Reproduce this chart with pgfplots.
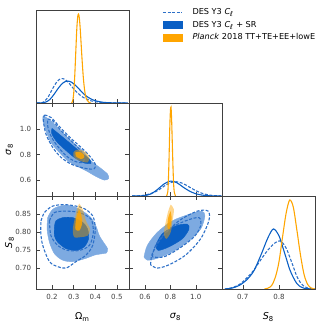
\documentclass[border=0pt]{standalone}
\usepackage{fontspec}
\setmainfont{DejaVu Sans}
\usepackage{pgfplots}
\pgfplotsset{compat=1.18}

\definecolor{cldash}{RGB}{45,112,200}
\definecolor{srdark}{RGB}{10,95,196}
\definecolor{srlight}{RGB}{125,170,225}
\definecolor{plk}{RGB}{255,165,0}

\pgfplotsset{
  tri/.style={scale only axis, width=2.4cm, height=2.4cm,
    axis line style={black!75, line width=0.6pt},
    tick style={black!75, line width=0.5pt}, major tick length=0.11cm,
    tick label style={font=\fontsize{5.2}{6.3}\selectfont, text=black!75},
    every axis x label/.style={at={(axis description cs:0.5,-0.30)}, anchor=center,
      font=\fontsize{7}{8}\selectfont},
    every axis y label/.style={at={(axis description cs:-0.285,0.5)}, anchor=center, rotate=90,
      font=\fontsize{7}{8}\selectfont},
    /pgf/number format/assume math mode=true},
  diag/.style={tri, ymin=0, ymax=1.045, ytick=\empty, xtick pos=left},
  cl1d/.style={cldash, line width=0.8pt, dash pattern=on 2.2pt off 1.2pt, smooth, no marks},
  sr1d/.style={srdark, line width=0.8pt, smooth, no marks},
  pl1d/.style={plk, line width=0.8pt, smooth, no marks},
  srL/.style={fill=srlight, draw=srlight, line width=0.3pt, smooth, no marks},
  srD/.style={fill=srdark, draw=srdark, line width=0.3pt, smooth, no marks},
  clC/.style={cldash, line width=0.8pt, dash pattern=on 2.2pt off 1.2pt, smooth, no marks},
  plL/.style={fill=plk, fill opacity=0.45, draw=none, smooth, no marks},
  plD/.style={fill=plk, fill opacity=0.85, draw=none, smooth, no marks},
  legline/.style={legend image code/.code={\draw[##1] (0cm,0cm) -- (0.5cm,0cm); \path (0.68cm,0cm);}},
  legbox/.style={legend image code/.code={\draw[##1] (0cm,-0.09cm) rectangle (0.5cm,0.09cm); \path (0.68cm,0cm);}},
}

\begin{document}
\begin{tikzpicture}
\path[use as bounding box] (-0.93,-0.90) rectangle (7.46,7.46);

% ---- row 1: Omega_m 1D ----
\begin{axis}[diag, at={(0,4.8cm)}, anchor=south west,
  xmin=0.126, xmax=0.556, xtick={0.2,0.3,0.4,0.5}, xticklabels={},
  legend style={at={(1.312,1.077)}, anchor=north west, draw=none, fill=none,
    font=\fontsize{6}{7}\selectfont, row sep=-0.9pt},
  legend cell align=left]
\addlegendimage{legline, cldash, line width=0.8pt, dash pattern=on 2.2pt off 1.2pt}
\addlegendimage{legbox, fill=srdark, draw=srdark}
\addlegendimage{legbox, fill=plk, draw=plk}
\addplot[cl1d, forget plot] coordinates {(0.13,0) (0.15,0.002) (0.16,0.01) (0.18,0.06) (0.20,0.15) (0.22,0.23) (0.24,0.275) (0.26,0.265) (0.28,0.22) (0.30,0.16) (0.32,0.11) (0.34,0.07) (0.36,0.045) (0.38,0.025) (0.40,0.015) (0.43,0.006) (0.47,0.001) (0.55,0)};
\addplot[sr1d, forget plot] coordinates {(0.13,0) (0.15,0.001) (0.17,0.01) (0.19,0.04) (0.21,0.10) (0.23,0.17) (0.25,0.225) (0.27,0.247) (0.29,0.235) (0.31,0.195) (0.33,0.145) (0.35,0.095) (0.37,0.06) (0.39,0.035) (0.41,0.02) (0.43,0.01) (0.46,0.004) (0.50,0.001) (0.55,0)};
\addplot[pl1d, forget plot] coordinates {(0.29,0) (0.295,0.02) (0.30,0.1) (0.305,0.3) (0.31,0.58) (0.315,0.85) (0.32,0.99) (0.325,0.98) (0.33,0.85) (0.335,0.65) (0.34,0.45) (0.345,0.28) (0.35,0.16) (0.355,0.08) (0.36,0.04) (0.37,0.01) (0.38,0)};
\legend{DES Y3 \textit{C}\textsubscript{\textit{ℓ}}, DES Y3 \textit{C}\textsubscript{\textit{ℓ}} + SR, \textit{Planck} 2018 TT+TE+EE+lowE}
\end{axis}

% ---- row 2: Omega_m vs sigma_8 ----
\begin{axis}[tri, at={(0,2.4cm)}, anchor=south west,
  xmin=0.126, xmax=0.556, ymin=0.475, ymax=1.205,
  xtick={0.2,0.3,0.4,0.5}, xticklabels={},
  ytick={0.6,0.8,1.0}, yticklabels={0.6,0.8,1.0},
  ylabel={\textit{σ}\textsubscript{8}}]
\addplot[srL] coordinates {(0.160,1.105) (0.195,1.066) (0.249,0.974) (0.296,0.896) (0.342,0.831) (0.380,0.752) (0.426,0.692) (0.457,0.647) (0.462,0.613) (0.442,0.600) (0.403,0.629) (0.357,0.674) (0.311,0.713) (0.272,0.752) (0.234,0.817) (0.195,0.896) (0.169,1.001) (0.157,1.079) (0.160,1.105)};
\addplot[srD] coordinates {(0.200,1.006) (0.242,0.948) (0.288,0.883) (0.334,0.817) (0.373,0.765) (0.380,0.731) (0.349,0.734) (0.303,0.778) (0.257,0.844) (0.218,0.909) (0.198,0.969) (0.200,1.006)};
\addplot[clC] coordinates {(0.165,1.111) (0.195,1.092) (0.242,1.006) (0.288,0.927) (0.334,0.857) (0.373,0.791) (0.400,0.726) (0.396,0.690) (0.373,0.687) (0.334,0.700) (0.288,0.726) (0.242,0.778) (0.203,0.857) (0.172,0.961) (0.160,1.066) (0.165,1.111)};
\addplot[clC] coordinates {(0.180,1.079) (0.203,1.066) (0.242,0.988) (0.288,0.909) (0.326,0.844) (0.349,0.778) (0.342,0.739) (0.311,0.744) (0.265,0.791) (0.218,0.883) (0.191,0.961) (0.180,1.027) (0.180,1.079)};
\addplot[plL] coordinates {(0.299,0.817) (0.311,0.836) (0.334,0.836) (0.357,0.817) (0.373,0.778) (0.365,0.739) (0.342,0.744) (0.311,0.765) (0.299,0.791) (0.299,0.817)};
\addplot[plD] coordinates {(0.308,0.817) (0.326,0.823) (0.345,0.804) (0.349,0.778) (0.334,0.765) (0.311,0.786) (0.308,0.817)};
\end{axis}

% ---- row 2: sigma_8 1D ----
\begin{axis}[diag, at={(2.4cm,2.4cm)}, anchor=south west,
  xmin=0.475, xmax=1.205, xtick={0.6,0.8,1.0}, xticklabels={}]
\addplot[cl1d] coordinates {(0.50,0) (0.55,0.002) (0.60,0.01) (0.65,0.03) (0.70,0.06) (0.75,0.11) (0.80,0.15) (0.85,0.16) (0.90,0.14) (0.95,0.10) (1.0,0.06) (1.05,0.03) (1.1,0.012) (1.15,0.004) (1.2,0)};
\addplot[sr1d] coordinates {(0.50,0) (0.55,0.001) (0.60,0.005) (0.65,0.025) (0.70,0.075) (0.75,0.135) (0.80,0.168) (0.85,0.15) (0.90,0.10) (0.95,0.055) (1.0,0.025) (1.05,0.01) (1.1,0.003) (1.15,0) (1.2,0)};
\addplot[pl1d] coordinates {(0.77,0) (0.78,0.05) (0.785,0.2) (0.79,0.45) (0.795,0.75) (0.80,0.95) (0.805,1.0) (0.81,0.85) (0.815,0.6) (0.82,0.35) (0.825,0.15) (0.83,0.05) (0.84,0)};
\end{axis}

% ---- row 3: Omega_m vs S_8 ----
\begin{axis}[tri, at={(0,0)}, anchor=south west,
  xmin=0.126, xmax=0.556, ymin=0.642, ymax=0.900,
  xtick={0.2,0.3,0.4,0.5}, xticklabels={0.2,0.3,0.4,0.5},
  ytick={0.70,0.75,0.80,0.85}, yticklabels={0.70,0.75,0.80,0.85},
  xlabel={Ω\textsubscript{m}}, ylabel={\textit{S}\textsubscript{8}}]
\addplot[srL] coordinates {(0.180,0.840) (0.203,0.863) (0.249,0.874) (0.296,0.872) (0.342,0.858) (0.380,0.840) (0.403,0.817) (0.419,0.790) (0.442,0.768) (0.457,0.754) (0.452,0.742) (0.434,0.740) (0.396,0.736) (0.357,0.727) (0.296,0.718) (0.249,0.722) (0.211,0.740) (0.188,0.772) (0.177,0.808) (0.180,0.840)};
\addplot[srD] coordinates {(0.211,0.813) (0.218,0.831) (0.249,0.840) (0.296,0.840) (0.342,0.827) (0.365,0.808) (0.369,0.781) (0.349,0.759) (0.311,0.749) (0.265,0.754) (0.226,0.772) (0.211,0.790) (0.211,0.813)};
\addplot[clC] coordinates {(0.149,0.831) (0.165,0.854) (0.203,0.872) (0.265,0.876) (0.342,0.867) (0.388,0.845) (0.400,0.808) (0.388,0.763) (0.357,0.736) (0.311,0.718) (0.265,0.700) (0.226,0.704) (0.188,0.718) (0.157,0.763) (0.148,0.799) (0.149,0.831)};
\addplot[clC] coordinates {(0.188,0.831) (0.211,0.854) (0.265,0.858) (0.326,0.854) (0.380,0.836) (0.391,0.799) (0.373,0.763) (0.326,0.749) (0.272,0.749) (0.226,0.763) (0.195,0.790) (0.188,0.831)};
\addplot[plL] coordinates {(0.326,0.879) (0.342,0.863) (0.357,0.831) (0.376,0.808) (0.365,0.790) (0.334,0.786) (0.303,0.786) (0.296,0.808) (0.308,0.845) (0.317,0.867) (0.326,0.879)};
\addplot[plD] coordinates {(0.326,0.863) (0.336,0.845) (0.339,0.822) (0.326,0.804) (0.308,0.808) (0.311,0.836) (0.319,0.854) (0.326,0.863)};
\end{axis}

% ---- row 3: sigma_8 vs S_8 ----
\begin{axis}[tri, at={(2.4cm,0)}, anchor=south west,
  xmin=0.475, xmax=1.205, ymin=0.642, ymax=0.900,
  xtick={0.6,0.8,1.0}, xticklabels={0.6,0.8,1.0},
  ytick={0.70,0.75,0.80,0.85}, yticklabels={},
  xlabel={\textit{σ}\textsubscript{8}}]
\addplot[srL] coordinates {(0.593,0.731) (0.619,0.763) (0.697,0.799) (0.815,0.831) (0.946,0.849) (1.045,0.858) (1.071,0.845) (1.037,0.808) (0.932,0.772) (0.815,0.745) (0.697,0.727) (0.619,0.722) (0.593,0.731)};
\addplot[srD] coordinates {(0.684,0.763) (0.736,0.795) (0.841,0.817) (0.932,0.822) (0.946,0.808) (0.893,0.781) (0.789,0.759) (0.705,0.749) (0.684,0.763)};
\addplot[clC] coordinates {(0.645,0.709) (0.658,0.740) (0.736,0.786) (0.867,0.831) (1.011,0.858) (1.097,0.858) (1.102,0.831) (1.037,0.781) (0.919,0.736) (0.789,0.709) (0.697,0.700) (0.645,0.709)};
\addplot[clC] coordinates {(0.658,0.731) (0.684,0.763) (0.789,0.808) (0.919,0.831) (1.024,0.840) (1.037,0.817) (0.985,0.786) (0.867,0.754) (0.749,0.731) (0.658,0.731)};
\addplot[plL] coordinates {(0.802,0.876) (0.828,0.863) (0.815,0.827) (0.802,0.799) (0.768,0.781) (0.749,0.795) (0.763,0.827) (0.783,0.858) (0.802,0.876)};
\addplot[plD] coordinates {(0.802,0.858) (0.810,0.836) (0.794,0.808) (0.776,0.813) (0.783,0.840) (0.802,0.858)};
\end{axis}

% ---- row 3: S_8 1D ----
\begin{axis}[diag, at={(4.8cm,0)}, anchor=south west,
  xmin=0.642, xmax=0.900, xtick={0.7,0.8}, xticklabels={0.7,0.8},
  xlabel={\textit{S}\textsubscript{8}}]
\addplot[cl1d] coordinates {(0.65,0) (0.67,0.015) (0.69,0.05) (0.71,0.12) (0.73,0.21) (0.75,0.33) (0.77,0.44) (0.79,0.52) (0.805,0.54) (0.82,0.46) (0.83,0.36) (0.84,0.25) (0.85,0.14) (0.86,0.07) (0.87,0.03) (0.88,0.01) (0.90,0)};
\addplot[sr1d] coordinates {(0.65,0) (0.67,0.01) (0.69,0.04) (0.71,0.1) (0.73,0.2) (0.75,0.38) (0.77,0.58) (0.785,0.675) (0.80,0.6) (0.81,0.48) (0.82,0.35) (0.83,0.22) (0.84,0.13) (0.85,0.06) (0.86,0.025) (0.87,0.008) (0.89,0)};
\addplot[pl1d] coordinates {(0.76,0) (0.77,0.01) (0.78,0.04) (0.79,0.13) (0.80,0.3) (0.81,0.58) (0.82,0.85) (0.83,1.0) (0.84,0.92) (0.85,0.66) (0.86,0.38) (0.87,0.16) (0.88,0.05) (0.89,0.01) (0.90,0)};
\end{axis}
\end{tikzpicture}
\end{document}
